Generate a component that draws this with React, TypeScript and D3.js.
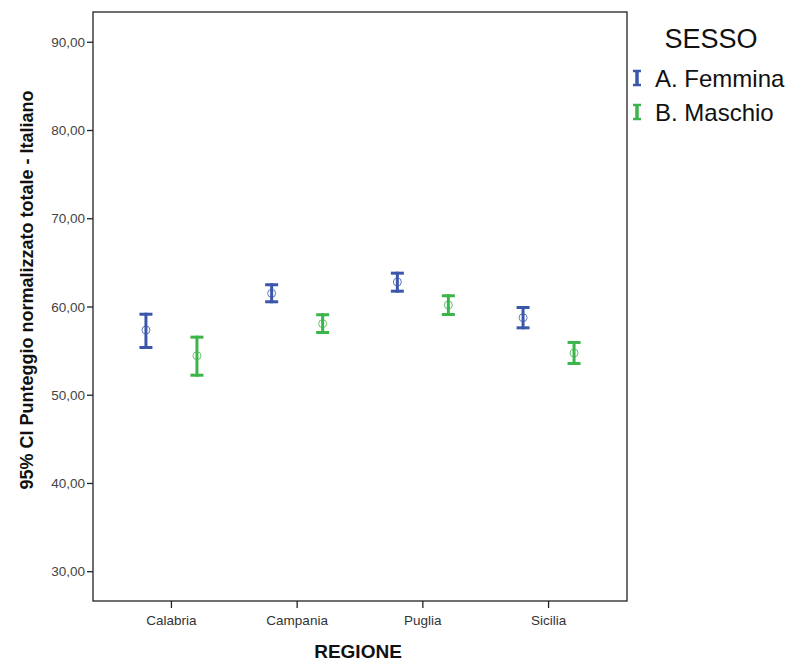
import React from "react";
import * as d3 from "d3";

const regions = ["Calabria", "Campania", "Puglia", "Sicilia"];
const series = ["A. Femmina", "B. Maschio"];
const colors = ["#3B57AB", "#3BB54A"];
const femminaMean = [57.39, 61.55, 62.83, 58.79];
const femminaLow = [55.24, 60.42, 61.62, 57.47];
const femminaHigh = [59.35, 62.69, 64.0, 60.11];
const maschioMean = [54.48, 58.11, 60.23, 54.79];
const maschioLow = [52.1, 56.94, 58.98, 53.43];
const maschioHigh = [56.75, 59.29, 61.44, 56.15];
const yTicks = [30, 40, 50, 60, 70, 80, 90];

const W = 795;
const H = 662;
const L = 93, R = 627, T = 12, B = 601;

export default function App() {
  const x = d3.scalePoint<string>().domain(regions).range([L, R]).padding(0.624);
  const y = d3.scaleLinear().domain([26.68, 93.43]).range([B, T]);
  const off = [-25.5, 25.5];
  const data = [
    { mean: femminaMean, lo: femminaLow, hi: femminaHigh },
    { mean: maschioMean, lo: maschioLow, hi: maschioHigh },
  ];
  const fmt = (v: number) => v.toFixed(2).replace(".", ",");
  return (
    <svg width={W} height={H} style={{ position: "absolute", left: 0, top: 0, background: "#fff" }}
      fontFamily="Arial, 'Liberation Sans', sans-serif">
      <rect x={L} y={T} width={R - L} height={B - T} fill="none" stroke="#222" strokeWidth={1.3} />
      {yTicks.map((t) => (
        <g key={t}>
          <line x1={L - 6} x2={L} y1={y(t)} y2={y(t)} stroke="#222" strokeWidth={1.3} />
          <text x={L - 8} y={y(t)} dy="0.35em" textAnchor="end" fontSize={13.5} fill="#444">{fmt(t)}</text>
        </g>
      ))}
      {regions.map((r) => (
        <g key={r}>
          <line x1={x(r)} x2={x(r)} y1={B} y2={B + 7} stroke="#222" strokeWidth={1.3} />
          <text x={x(r)} y={B + 24} textAnchor="middle" fontSize={13.5} fill="#333">{r}</text>
        </g>
      ))}
      {data.map((s, si) =>
        regions.map((r, i) => {
          const cx = (x(r) as number) + off[si];
          const c = colors[si];
          return (
            <g key={si + r}>
              <line x1={cx} x2={cx} y1={y(s.hi[i])} y2={y(s.lo[i])} stroke={c} strokeWidth={3} />
              <line x1={cx - 6.5} x2={cx + 6.5} y1={y(s.hi[i]) + 1.5} y2={y(s.hi[i]) + 1.5} stroke={c} strokeWidth={3} />
              <line x1={cx - 6.5} x2={cx + 6.5} y1={y(s.lo[i]) - 1.5} y2={y(s.lo[i]) - 1.5} stroke={c} strokeWidth={3} />
              <circle cx={cx} cy={y(s.mean[i])} r={4} fill="none" stroke={c} strokeWidth={1} opacity={0.8} />
            </g>
          );
        })
      )}
      <text x={33} y={290} transform="rotate(-90 33 290)" textAnchor="middle" fontSize={18} fontWeight="bold" fill="#111">
        95% CI Punteggio normalizzato totale - Italiano
      </text>
      <text x={358} y={658} textAnchor="middle" fontSize={19} fontWeight="bold" fill="#111">REGIONE</text>
      <text x={711} y={48} textAnchor="middle" fontSize={27} fill="#111">SESSO</text>
      {series.map((s, i) => (
        <g key={s}>
          <line x1={637} x2={637} y1={70 + i * 34} y2={86 + i * 34} stroke={colors[i]} strokeWidth={3.5} />
          <line x1={633} x2={641} y1={71 + i * 34} y2={71 + i * 34} stroke={colors[i]} strokeWidth={2.5} />
          <line x1={633} x2={641} y1={85 + i * 34} y2={85 + i * 34} stroke={colors[i]} strokeWidth={2.5} />
          <text x={655} y={87 + i * 34} fontSize={24} fill="#111">{s}</text>
        </g>
      ))}
    </svg>
  );
}
